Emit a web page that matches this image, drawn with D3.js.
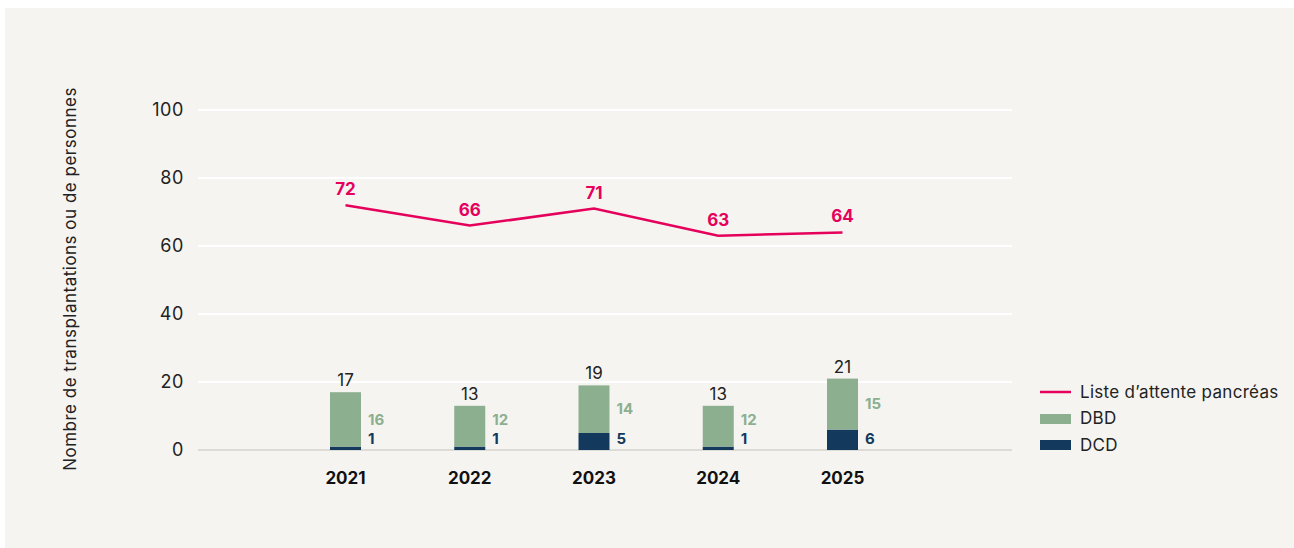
<!DOCTYPE html>
<html>
<head>
<meta charset="utf-8">
<script src="https://cdn.jsdelivr.net/npm/d3@7/dist/d3.min.js"></script>
<style>
  html, body { margin: 0; padding: 0; background: #fff; }
  svg { display: block; font-family: "Inter", "Lato", sans-serif; }
</style>
</head>
<body>
<svg id="chart" width="1294" height="548"></svg>
<script>
// chart data
var years = ["2021", "2022", "2023", "2024", "2025"];
var dbd = [16, 12, 14, 12, 15];
var dcd = [1, 1, 5, 1, 6];
var waitingList = [72, 66, 71, 63, 64];
var yTicks = [0, 20, 40, 60, 80, 100];

var colors = { line: "#e5005b", dbd: "#8caf8f", dcd: "#133a5c", text: "#222" };

var svg = d3.select("#chart");

// panel background
svg.append("rect")
  .attr("x", 5).attr("y", 8)
  .attr("width", 1289).attr("height", 540)
  .attr("fill", "#f5f4f1");

var y = d3.scaleLinear().domain([0, 100]).range([450, 110]);
var x = d3.scalePoint().domain(years).range([345.5, 842.5]);
var gridLeft = 198, gridRight = 1012, barW = 31;

// gridlines + y ticks
var grid = svg.append("g");
yTicks.forEach(function(t) {
  grid.append("line")
    .attr("x1", gridLeft).attr("x2", gridRight)
    .attr("y1", y(t)).attr("y2", y(t))
    .attr("stroke", t === 0 ? "#dddbd5" : "#ffffff")
    .attr("stroke-width", 2);
  grid.append("text")
    .attr("x", 184).attr("y", y(t))
    .attr("dy", "0.35em")
    .attr("text-anchor", "end")
    .attr("font-size", 18)
    .attr("letter-spacing", 0.6)
    .attr("fill", colors.text)
    .text(t);
});

// y axis title
svg.append("text")
  .attr("transform", "translate(76," + 279 + ") rotate(-90)")
  .attr("text-anchor", "middle")
  .attr("font-size", 17)
  .attr("letter-spacing", 0.5)
  .attr("fill", colors.text)
  .text("Nombre de transplantations ou de personnes");

// stacked bars
var bars = svg.append("g");
years.forEach(function(yr, i) {
  var cx = x(yr), total = dbd[i] + dcd[i];
  bars.append("rect")
    .attr("x", cx - barW / 2).attr("y", y(dcd[i]))
    .attr("width", barW).attr("height", y(0) - y(dcd[i]))
    .attr("fill", colors.dcd);
  bars.append("rect")
    .attr("x", cx - barW / 2).attr("y", y(total))
    .attr("width", barW).attr("height", y(dcd[i]) - y(total))
    .attr("fill", colors.dbd);

  // total on top
  bars.append("text")
    .attr("x", cx).attr("y", y(total) - 6)
    .attr("text-anchor", "middle")
    .attr("font-size", 17)
    .attr("fill", colors.text)
    .text(total);

  // segment values beside the bar
  var dcdMid = Math.min((y(0) + y(dcd[i])) / 2, y(0) - 11);
  var dbdMid = Math.min((y(dcd[i]) + y(total)) / 2, dcdMid - 19);
  bars.append("text")
    .attr("x", cx + barW / 2 + 7).attr("y", dbdMid)
    .attr("dy", "0.35em")
    .attr("font-size", 15).attr("font-weight", 700)
    .attr("fill", colors.dbd)
    .text(dbd[i]);
  bars.append("text")
    .attr("x", cx + barW / 2 + 7).attr("y", dcdMid)
    .attr("dy", "0.35em")
    .attr("font-size", 15).attr("font-weight", 700)
    .attr("fill", colors.dcd)
    .text(dcd[i]);

  // year label
  bars.append("text")
    .attr("x", cx).attr("y", 478)
    .attr("dy", "0.35em")
    .attr("text-anchor", "middle")
    .attr("font-size", 17).attr("font-weight", 700)
    .attr("fill", "#111")
    .text(yr);
});

// waiting list line
var line = d3.line()
  .x(function(d, i) { return x(years[i]); })
  .y(function(d) { return y(d); });

svg.append("path")
  .datum(waitingList)
  .attr("d", line)
  .attr("fill", "none")
  .attr("stroke", colors.line)
  .attr("stroke-width", 2.5);

svg.append("g").selectAll("text")
  .data(waitingList)
  .enter().append("text")
  .attr("x", function(d, i) { return x(years[i]); })
  .attr("y", function(d) { return y(d) - 10; })
  .attr("text-anchor", "middle")
  .attr("font-size", 17).attr("font-weight", 700)
  .attr("fill", colors.line)
  .text(function(d) { return d; });

// legend
var legend = svg.append("g").attr("transform", "translate(1040,0)");
legend.append("line")
  .attr("x1", 0).attr("x2", 31).attr("y1", 392).attr("y2", 392)
  .attr("stroke", colors.line).attr("stroke-width", 2.5);
legend.append("rect").attr("x", 0).attr("y", 414).attr("width", 31).attr("height", 10).attr("fill", colors.dbd);
legend.append("rect").attr("x", 0).attr("y", 440).attr("width", 31).attr("height", 10).attr("fill", colors.dcd);
[["Liste d\u2019attente pancréas", 392], ["DBD", 418], ["DCD", 445]].forEach(function(r) {
  legend.append("text")
    .attr("x", 40).attr("y", r[1])
    .attr("dy", "0.35em")
    .attr("font-size", 17)
    .attr("letter-spacing", 0.3)
    .attr("fill", colors.text)
    .text(r[0]);
});
</script>
</body>
</html>
